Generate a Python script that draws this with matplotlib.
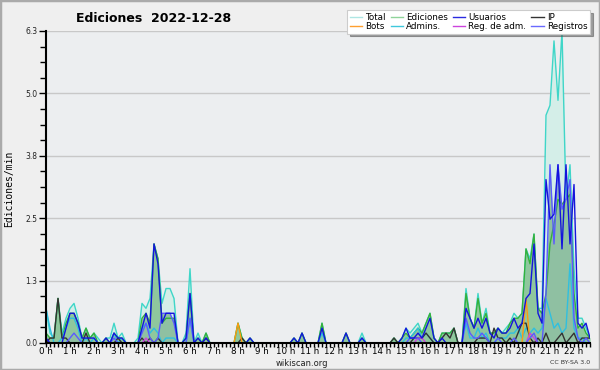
import numpy as np
import matplotlib
matplotlib.use("Agg")
import matplotlib.pyplot as plt
from matplotlib.lines import Line2D
from matplotlib.patches import Rectangle

# 10-minute bins, 00:00 .. 22:40 (edits per minute)
total = [
    0.7, 0.2, 0.1, 0.9, 0.2, 0.5,   # 0 h
    0.7, 0.8, 0.5, 0.1, 0.3, 0.1,   # 1 h
    0.2, 0.1, 0.0, 0.1, 0.1, 0.4,   # 2 h
    0.1, 0.2, 0.0, 0.0, 0.0, 0.1,   # 3 h
    0.8, 0.7, 0.9, 2.0, 1.7, 0.8,   # 4 h
    1.1, 1.1, 0.9, 0.0, 0.0, 0.2,   # 5 h
    1.5, 0.0, 0.2, 0.0, 0.2, 0.0,   # 6 h
    0.0, 0.0, 0.0, 0.0, 0.0, 0.0,   # 7 h
    0.4, 0.1, 0.0, 0.1, 0.0, 0.0,   # 8 h
    0.0, 0.0, 0.0, 0.0, 0.0, 0.0,   # 9 h
    0.0, 0.0, 0.1, 0.0, 0.2, 0.0,   # 10 h
    0.0, 0.0, 0.0, 0.4, 0.0, 0.0,   # 11 h
    0.0, 0.0, 0.0, 0.2, 0.0, 0.0,   # 12 h
    0.0, 0.2, 0.0, 0.0, 0.0, 0.0,   # 13 h
    0.0, 0.0, 0.0, 0.1, 0.0, 0.1,   # 14 h
    0.3, 0.2, 0.3, 0.4, 0.2, 0.4,   # 15 h
    0.6, 0.1, 0.0, 0.2, 0.2, 0.2,   # 16 h
    0.3, 0.0, 0.0, 1.1, 0.5, 0.3,   # 17 h
    1.0, 0.4, 0.7, 0.2, 0.2, 0.3,   # 18 h
    0.2, 0.3, 0.4, 0.6, 0.5, 0.6,   # 19 h
    1.9, 1.7, 2.2, 0.7, 0.7, 4.6,   # 20 h
    4.8, 6.1, 4.9, 6.3, 2.9, 3.6,   # 21 h
    1.5, 0.5, 0.5, 0.3, 0.1,        # 22 h
]
ediciones = [
    0.2, 0.1, 0.1, 0.9, 0.1, 0.4,
    0.6, 0.6, 0.4, 0.1, 0.3, 0.1,
    0.2, 0.0, 0.0, 0.1, 0.0, 0.2,
    0.1, 0.1, 0.0, 0.0, 0.0, 0.0,
    0.5, 0.6, 0.4, 2.0, 1.7, 0.4,
    0.5, 0.5, 0.5, 0.0, 0.0, 0.1,
    1.0, 0.0, 0.1, 0.0, 0.2, 0.0,
    0.0, 0.0, 0.0, 0.0, 0.0, 0.0,
    0.4, 0.1, 0.0, 0.1, 0.0, 0.0,
    0.0, 0.0, 0.0, 0.0, 0.0, 0.0,
    0.0, 0.0, 0.1, 0.0, 0.2, 0.0,
    0.0, 0.0, 0.0, 0.4, 0.0, 0.0,
    0.0, 0.0, 0.0, 0.2, 0.0, 0.0,
    0.0, 0.1, 0.0, 0.0, 0.0, 0.0,
    0.0, 0.0, 0.0, 0.1, 0.0, 0.1,
    0.2, 0.1, 0.2, 0.3, 0.2, 0.4,
    0.6, 0.1, 0.0, 0.2, 0.2, 0.2,
    0.3, 0.0, 0.0, 1.0, 0.5, 0.3,
    0.9, 0.4, 0.6, 0.2, 0.2, 0.3,
    0.2, 0.2, 0.4, 0.5, 0.5, 0.6,
    1.9, 1.6, 2.2, 0.7, 0.6, 1.0,
    2.0, 2.4, 2.9, 2.8, 2.9, 3.0,
    1.0, 0.3, 0.4, 0.2, 0.1,
]
usuarios = [
    0.1, 0.0, 0.0, 0.0, 0.0, 0.3,
    0.6, 0.6, 0.4, 0.1, 0.1, 0.1,
    0.1, 0.0, 0.0, 0.1, 0.0, 0.2,
    0.1, 0.1, 0.0, 0.0, 0.0, 0.0,
    0.3, 0.6, 0.3, 2.0, 1.6, 0.4,
    0.6, 0.6, 0.6, 0.0, 0.0, 0.1,
    1.0, 0.0, 0.1, 0.0, 0.1, 0.0,
    0.0, 0.0, 0.0, 0.0, 0.0, 0.0,
    0.0, 0.0, 0.0, 0.1, 0.0, 0.0,
    0.0, 0.0, 0.0, 0.0, 0.0, 0.0,
    0.0, 0.0, 0.1, 0.0, 0.2, 0.0,
    0.0, 0.0, 0.0, 0.3, 0.0, 0.0,
    0.0, 0.0, 0.0, 0.2, 0.0, 0.0,
    0.0, 0.1, 0.0, 0.0, 0.0, 0.0,
    0.0, 0.0, 0.0, 0.0, 0.0, 0.1,
    0.3, 0.1, 0.1, 0.2, 0.1, 0.3,
    0.5, 0.1, 0.0, 0.1, 0.0, 0.0,
    0.0, 0.0, 0.0, 0.7, 0.5, 0.3,
    0.5, 0.3, 0.5, 0.2, 0.1, 0.3,
    0.2, 0.2, 0.3, 0.5, 0.3, 0.4,
    0.9, 1.0, 2.0, 0.6, 0.4, 3.3,
    2.5, 2.6, 3.6, 1.9, 3.6, 2.0,
    3.2, 0.4, 0.3, 0.4, 0.1,
]
ip = [
    0.0, 0.1, 0.1, 0.9, 0.1, 0.1,
    0.0, 0.0, 0.0, 0.0, 0.2, 0.0,
    0.0, 0.0, 0.0, 0.0, 0.0, 0.0,
    0.1, 0.0, 0.0, 0.0, 0.0, 0.0,
    0.1, 0.0, 0.1, 0.0, 0.1, 0.0,
    0.0, 0.0, 0.0, 0.0, 0.0, 0.0,
    0.0, 0.0, 0.0, 0.0, 0.1, 0.0,
    0.0, 0.0, 0.0, 0.0, 0.0, 0.0,
    0.0, 0.1, 0.0, 0.0, 0.0, 0.0,
    0.0, 0.0, 0.0, 0.0, 0.0, 0.0,
    0.0, 0.0, 0.0, 0.0, 0.0, 0.0,
    0.0, 0.0, 0.0, 0.0, 0.0, 0.0,
    0.0, 0.0, 0.0, 0.0, 0.0, 0.0,
    0.0, 0.0, 0.0, 0.0, 0.0, 0.0,
    0.0, 0.0, 0.0, 0.1, 0.0, 0.0,
    0.0, 0.0, 0.1, 0.1, 0.1, 0.2,
    0.1, 0.0, 0.0, 0.1, 0.2, 0.1,
    0.3, 0.0, 0.0, 0.0, 0.0, 0.0,
    0.1, 0.1, 0.1, 0.0, 0.3, 0.1,
    0.1, 0.0, 0.1, 0.0, 0.2, 0.4,
    0.4, 0.1, 0.0, 0.1, 0.0, 0.2,
    0.0, 0.0, 0.1, 0.2, 0.0, 0.1,
    0.2, 0.0, 0.1, 0.1, 0.1,
]
bots = [
    0.0, 0.0, 0.0, 0.0, 0.0, 0.0,
    0.0, 0.0, 0.0, 0.0, 0.0, 0.0,
    0.0, 0.0, 0.0, 0.0, 0.0, 0.0,
    0.0, 0.0, 0.0, 0.0, 0.0, 0.0,
    0.0, 0.0, 0.0, 0.0, 0.0, 0.0,
    0.0, 0.0, 0.0, 0.0, 0.0, 0.0,
    0.0, 0.0, 0.0, 0.0, 0.0, 0.0,
    0.0, 0.0, 0.0, 0.0, 0.0, 0.0,
    0.4, 0.0, 0.0, 0.0, 0.0, 0.0,
    0.0, 0.0, 0.0, 0.0, 0.0, 0.0,
    0.0, 0.0, 0.0, 0.0, 0.0, 0.0,
    0.0, 0.0, 0.0, 0.0, 0.0, 0.0,
    0.0, 0.0, 0.0, 0.0, 0.0, 0.0,
    0.0, 0.0, 0.0, 0.0, 0.0, 0.0,
    0.0, 0.0, 0.0, 0.0, 0.0, 0.0,
    0.0, 0.0, 0.0, 0.0, 0.0, 0.0,
    0.0, 0.0, 0.0, 0.0, 0.0, 0.0,
    0.0, 0.0, 0.0, 0.0, 0.0, 0.0,
    0.0, 0.0, 0.0, 0.0, 0.0, 0.0,
    0.0, 0.0, 0.0, 0.0, 0.0, 0.0,
    0.9, 0.0, 0.0, 0.0, 0.0, 0.0,
    0.0, 0.0, 0.0, 0.0, 0.0, 0.0,
    0.0, 0.0, 0.0, 0.0, 0.0,
]
admins = [
    0.7, 0.3, 0.0, 0.0, 0.1, 0.3,
    0.5, 0.5, 0.3, 0.0, 0.1, 0.0,
    0.1, 0.0, 0.0, 0.0, 0.0, 0.2,
    0.0, 0.1, 0.0, 0.0, 0.0, 0.0,
    0.3, 0.4, 0.2, 0.3, 0.2, 0.0,
    0.1, 0.1, 0.1, 0.0, 0.0, 0.0,
    0.5, 0.0, 0.0, 0.0, 0.0, 0.0,
    0.0, 0.0, 0.0, 0.0, 0.0, 0.0,
    0.0, 0.0, 0.0, 0.0, 0.0, 0.0,
    0.0, 0.0, 0.0, 0.0, 0.0, 0.0,
    0.0, 0.0, 0.0, 0.0, 0.0, 0.0,
    0.0, 0.0, 0.0, 0.2, 0.0, 0.0,
    0.0, 0.0, 0.0, 0.0, 0.0, 0.0,
    0.0, 0.1, 0.0, 0.0, 0.0, 0.0,
    0.0, 0.0, 0.0, 0.0, 0.0, 0.0,
    0.1, 0.1, 0.2, 0.3, 0.1, 0.2,
    0.1, 0.0, 0.0, 0.0, 0.0, 0.0,
    0.0, 0.0, 0.0, 0.4, 0.1, 0.1,
    0.3, 0.1, 0.2, 0.0, 0.0, 0.1,
    0.1, 0.1, 0.2, 0.2, 0.3, 0.1,
    0.3, 0.2, 0.3, 0.2, 0.3, 0.9,
    0.6, 0.3, 0.4, 0.2, 0.3, 1.6,
    0.3, 0.1, 0.1, 0.0, 0.0,
]
reg_adm = [
    0.0, 0.0, 0.0, 0.0, 0.0, 0.0,
    0.0, 0.0, 0.0, 0.0, 0.0, 0.0,
    0.0, 0.0, 0.0, 0.0, 0.0, 0.0,
    0.0, 0.0, 0.0, 0.0, 0.0, 0.0,
    0.0, 0.1, 0.0, 0.0, 0.0, 0.0,
    0.0, 0.0, 0.0, 0.0, 0.0, 0.0,
    0.0, 0.0, 0.0, 0.0, 0.0, 0.0,
    0.0, 0.0, 0.0, 0.0, 0.0, 0.0,
    0.0, 0.0, 0.0, 0.0, 0.0, 0.0,
    0.0, 0.0, 0.0, 0.0, 0.0, 0.0,
    0.0, 0.0, 0.0, 0.0, 0.0, 0.0,
    0.0, 0.0, 0.0, 0.0, 0.0, 0.0,
    0.0, 0.0, 0.0, 0.0, 0.0, 0.0,
    0.0, 0.0, 0.0, 0.0, 0.0, 0.0,
    0.0, 0.0, 0.0, 0.0, 0.0, 0.0,
    0.0, 0.0, 0.0, 0.1, 0.1, 0.0,
    0.0, 0.0, 0.0, 0.0, 0.0, 0.0,
    0.0, 0.0, 0.0, 0.0, 0.0, 0.0,
    0.0, 0.0, 0.0, 0.0, 0.0, 0.0,
    0.0, 0.0, 0.0, 0.0, 0.0, 0.0,
    0.0, 0.2, 0.1, 0.0, 0.0, 0.0,
    0.0, 0.0, 0.0, 0.0, 0.0, 0.0,
    0.0, 0.0, 0.0, 0.0, 0.0,
]
registros = [
    0.0, 0.0, 0.0, 0.0, 0.0, 0.0,
    0.1, 0.2, 0.1, 0.0, 0.0, 0.0,
    0.0, 0.0, 0.0, 0.0, 0.0, 0.1,
    0.0, 0.0, 0.0, 0.0, 0.0, 0.0,
    0.2, 0.4, 0.1, 0.0, 0.1, 0.6,
    0.6, 0.6, 0.4, 0.0, 0.0, 0.0,
    0.5, 0.0, 0.0, 0.0, 0.0, 0.0,
    0.0, 0.0, 0.0, 0.0, 0.0, 0.0,
    0.0, 0.0, 0.0, 0.0, 0.0, 0.0,
    0.0, 0.0, 0.0, 0.0, 0.0, 0.0,
    0.0, 0.0, 0.0, 0.0, 0.0, 0.0,
    0.0, 0.0, 0.0, 0.0, 0.0, 0.0,
    0.0, 0.0, 0.0, 0.0, 0.0, 0.0,
    0.0, 0.0, 0.0, 0.0, 0.0, 0.0,
    0.0, 0.0, 0.0, 0.0, 0.0, 0.0,
    0.0, 0.1, 0.1, 0.1, 0.0, 0.0,
    0.0, 0.0, 0.0, 0.0, 0.0, 0.0,
    0.0, 0.0, 0.0, 0.5, 0.2, 0.1,
    0.1, 0.2, 0.1, 0.0, 0.0, 0.1,
    0.0, 0.0, 0.0, 0.1, 0.0, 0.0,
    0.0, 0.1, 0.2, 0.0, 0.0, 1.0,
    3.6, 2.0, 3.6, 2.7, 2.9, 3.3,
    0.5, 0.1, 0.0, 0.1, 0.0,
]
hour_labels = [f"{h} h" for h in range(23)]

x = np.arange(len(total)) / 6.0
ymax = 6.3

fig = plt.figure(figsize=(6, 3.7), dpi=100, facecolor="#efefef")
ax = fig.add_axes([46 / 600, 1 - 343 / 370, 544 / 600, 312 / 370])
ax.set_facecolor("#eceef0")

# fills
ax.fill_between(x, total, color="#d4eee8", lw=0)
ax.fill_between(x, ediciones, color="#8fc79d", lw=0)
ax.fill_between(x, registros, color="#8fc0a2", lw=0)

# lines
lw = 1.0
ax.plot(x, total, color="#3fd6c8", lw=lw)
ax.plot(x, ediciones, color="#35b03c", lw=lw)
ax.plot(x, admins, color="#2fbfe0", lw=lw)
ax.plot(x, ip, color="#333333", lw=lw)
ax.plot(x, bots, color="#ff9a10", lw=lw)
ax.plot(x, reg_adm, color="#cc44dd", lw=lw)
ax.plot(x, registros, color="#5a5aff", lw=lw)
ax.plot(x, usuarios, color="#1414dc", lw=lw)

ax.set_xlim(0, x[-1])
ax.set_ylim(0, ymax)

yt = np.linspace(0, ymax, 6)
ax.set_yticks(yt)
ax.set_yticklabels([f"{v:.1f}" for v in yt], fontsize=5.5, color="#222222")
ax.set_yticks(np.linspace(0, ymax, 21), minor=True)
ax.set_xticks(range(23))
ax.set_xticklabels(hour_labels, fontsize=6.3)
ax.set_xticks(np.arange(0, x[-1] + 0.01, 1 / 6), minor=True)
ax.tick_params(axis="y", which="major", length=5, width=1, pad=1)
ax.tick_params(axis="y", which="minor", length=4, width=1)
ax.tick_params(axis="x", which="both", length=3, width=1, pad=0)

for v in yt[1:]:
    ax.axhline(v, color="#c8c8c8", lw=1, zorder=0)

for s in ["top", "right"]:
    ax.spines[s].set_visible(False)
ax.spines["left"].set_linewidth(1.5)
ax.spines["bottom"].set_linewidth(1.5)

fig.text(9 / 600, 0.49, "Ediciones/min", rotation=90, ha="center",
         va="center", fontsize=7, family="DejaVu Sans Mono")
fig.text(154 / 600, 1 - 18 / 370, "Ediciones  2022-12-28", ha="center",
         va="center", fontsize=9, fontweight="bold")
fig.text(302 / 600, 1 - 363 / 370, "wikiscan.org", ha="center", va="center",
         fontsize=6, color="#222222")
fig.text(590 / 600, 1 - 363 / 370, "CC BY-SA 3.0", ha="right", va="center",
         fontsize=4.5, color="#333333")

# legend (column-wise fill -> interleave rows)
leg_items = [
    ("Total", "#aee6e4"), ("Bots", "#ffa030"),
    ("Ediciones", "#8fd49a"), ("Admins.", "#40c8dc"),
    ("Usuarios", "#2a2ae0"), ("Reg. de adm.", "#cc44dd"),
    ("IP", "#333333"), ("Registros", "#6a6aff"),
]
handles = [Line2D([], [], color=c, lw=1) for _, c in leg_items]
labels = [t for t, _ in leg_items]
leg = fig.legend(handles, labels, ncol=4, loc="upper right",
                 bbox_to_anchor=(590 / 600, 1 - 10 / 370), fontsize=6.3,
                 frameon=True, fancybox=False, shadow=True, handlelength=1.4,
                 handletextpad=0.35, columnspacing=0.6, labelspacing=0.05,
                 borderpad=0.3, borderaxespad=0)
leg.get_frame().set_edgecolor("#cccccc")
leg.get_frame().set_linewidth(0.8)

fig.add_artist(Rectangle((0, 0), 1, 1, transform=fig.transFigure, fill=False,
                         edgecolor="#aaaaaa", lw=2.5))

plt.savefig("out.png", dpi=100, facecolor=fig.get_facecolor())
